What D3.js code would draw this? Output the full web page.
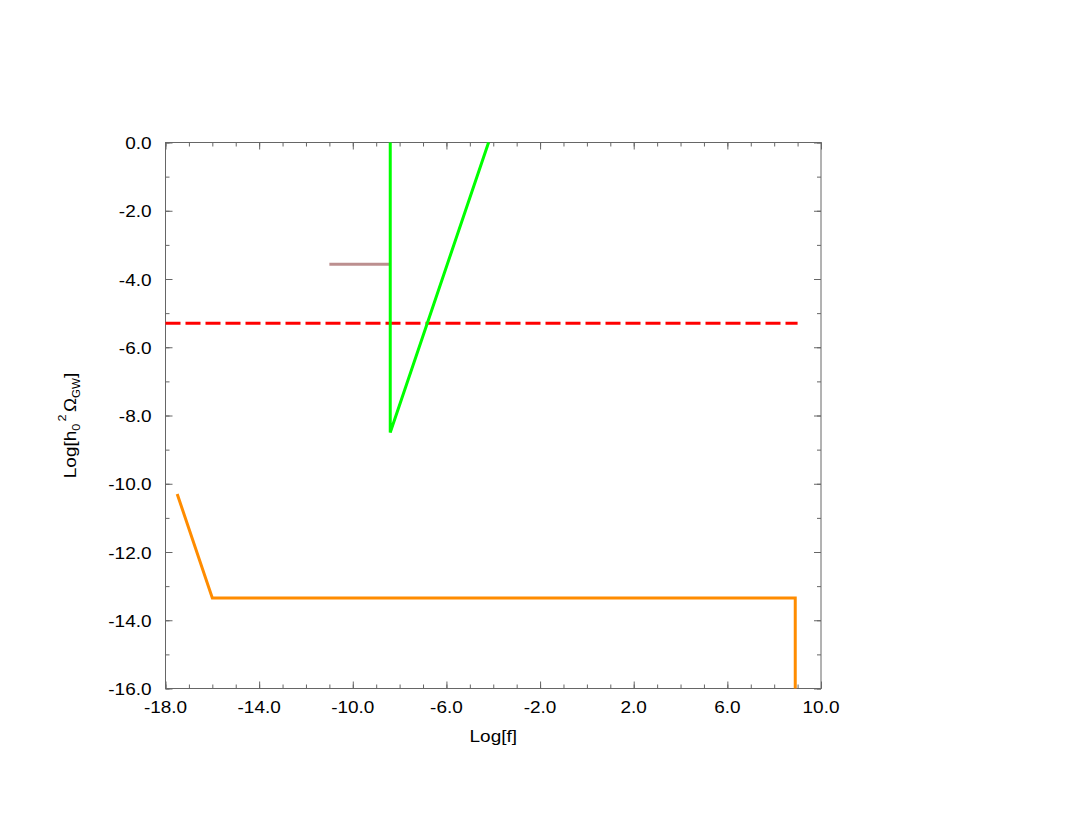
<!DOCTYPE html>
<html>
<head>
<meta charset="utf-8">
<script src="https://cdn.jsdelivr.net/npm/d3@7"></script>
<style>
  body { margin: 0; background: #fff; }
  text { font-family: "Liberation Sans", Arial, sans-serif; fill: #000; }
</style>
</head>
<body>
<div id="chart"></div>
<script>
var svgWidth = 1075;
var svgHeight = 830;

var margin = { top: 142.5, right: 254, bottom: 141.5, left: 165.5 };
var width = svgWidth - margin.left - margin.right;
var height = svgHeight - margin.top - margin.bottom;

// series
var orangeX = [-17.5, -16.0, 8.9, 8.9];
var orangeY = [-10.3, -13.35, -13.35, -16.0];

var greenX = [-8.4, -8.4, -4.2];
var greenY = [0.0, -8.5, 0.0];

var brownX = [-11.0, -8.4];
var brownY = [-3.57, -3.57];

var redX = [-18.0, 9.0];
var redY = [-5.3, -5.3];

// ticks
var xMajor = [-18, -14, -10, -6, -2, 2, 6, 10];
var xMinor = d3.range(-18, 11, 1);
var yMajor = [0, -2, -4, -6, -8, -10, -12, -14, -16];
var yMinor = d3.range(-16, 1, 1);

var fontSize = 16.5;
var stretch = 1.15; // the original lettering is a bit wide

var svg = d3.select("#chart")
  .append("svg")
  .attr("width", svgWidth)
  .attr("height", svgHeight);

var chartGroup = svg.append("g")
  .attr("transform", `translate(${margin.left}, ${margin.top})`);

var x = d3.scaleLinear().domain([-18, 10]).range([0, width]);
var y = d3.scaleLinear().domain([-16, 0]).range([height, 0]);

var axisColor = "#666";

// frame
chartGroup.append("rect")
  .attr("width", width)
  .attr("height", height)
  .attr("fill", "none")
  .attr("stroke", axisColor)
  .attr("stroke-width", 1);

// inward ticks on all four sides
function tickSet(axisFn, scale, values, size, transform) {
  var g = chartGroup.append("g")
    .attr("transform", transform)
    .call(axisFn(scale).tickValues(values).tickSizeInner(-size).tickSizeOuter(0).tickFormat(""));
  g.select(".domain").remove();
  g.selectAll("line").attr("stroke", axisColor);
  return g;
}
tickSet(d3.axisBottom, x, xMinor, 4, `translate(0, ${height})`);
tickSet(d3.axisBottom, x, xMajor, 7, `translate(0, ${height})`);
tickSet(d3.axisTop, x, xMinor, 4, "translate(0,0)");
tickSet(d3.axisTop, x, xMajor, 7, "translate(0,0)");
tickSet(d3.axisLeft, y, yMinor, 4, "translate(0,0)");
tickSet(d3.axisLeft, y, yMajor, 7, "translate(0,0)");
tickSet(d3.axisRight, y, yMinor, 4, `translate(${width},0)`);
tickSet(d3.axisRight, y, yMajor, 7, `translate(${width},0)`);

var fmt = d => d3.format(".1f")(d).replace("−", "-");

// tick labels
chartGroup.selectAll(".xlab")
  .data(xMajor)
  .enter()
  .append("text")
  .attr("transform", d => `translate(${x(d)}, ${height + 24}) scale(${stretch}, 1)`)
  .attr("text-anchor", "middle")
  .attr("font-size", fontSize)
  .text(fmt);

chartGroup.selectAll(".ylab")
  .data(yMajor)
  .enter()
  .append("text")
  .attr("transform", d => `translate(-14, ${y(d)}) scale(${stretch}, 1)`)
  .attr("dy", "0.4em")
  .attr("text-anchor", "end")
  .attr("font-size", fontSize)
  .text(fmt);

// axis titles
chartGroup.append("text")
  .attr("transform", `translate(${width / 2}, ${height + 53}) scale(${stretch}, 1)`)
  .attr("text-anchor", "middle")
  .attr("font-size", fontSize)
  .text("Log[f]");

var yTitle = chartGroup.append("text")
  .attr("transform", `translate(-90, ${height / 2 + 10}) rotate(-90) scale(${stretch}, 1)`)
  .attr("text-anchor", "middle")
  .attr("font-size", fontSize);
yTitle.append("tspan").text("Log[h");
yTitle.append("tspan").attr("font-size", 11).attr("dy", 4).text("0");
yTitle.append("tspan").attr("font-size", 11).attr("dx", 2).attr("dy", -14).text("2");
yTitle.append("tspan").attr("dx", 2).attr("dy", 10).text("Ω");
yTitle.append("tspan").attr("font-size", 10).attr("dy", 4).text("GW");
yTitle.append("tspan").attr("dy", -4).text("]");

// lines
var line = d3.line().x(d => x(d[0])).y(d => y(d[1]));

function drawSeries(xs, ys, color, dash) {
  var pts = xs.map((v, i) => [v, ys[i]]);
  chartGroup.append("path")
    .datum(pts)
    .attr("d", line)
    .attr("fill", "none")
    .attr("stroke", color)
    .attr("stroke-width", 3)
    .attr("stroke-dasharray", dash || null);
}

drawSeries(redX, redY, "#ff0000", "15,5");
drawSeries(brownX, brownY, "#bc8f8f");
drawSeries(greenX, greenY, "#00ff00");
drawSeries(orangeX, orangeY, "#ff8c00");
</script>
</body>
</html>
